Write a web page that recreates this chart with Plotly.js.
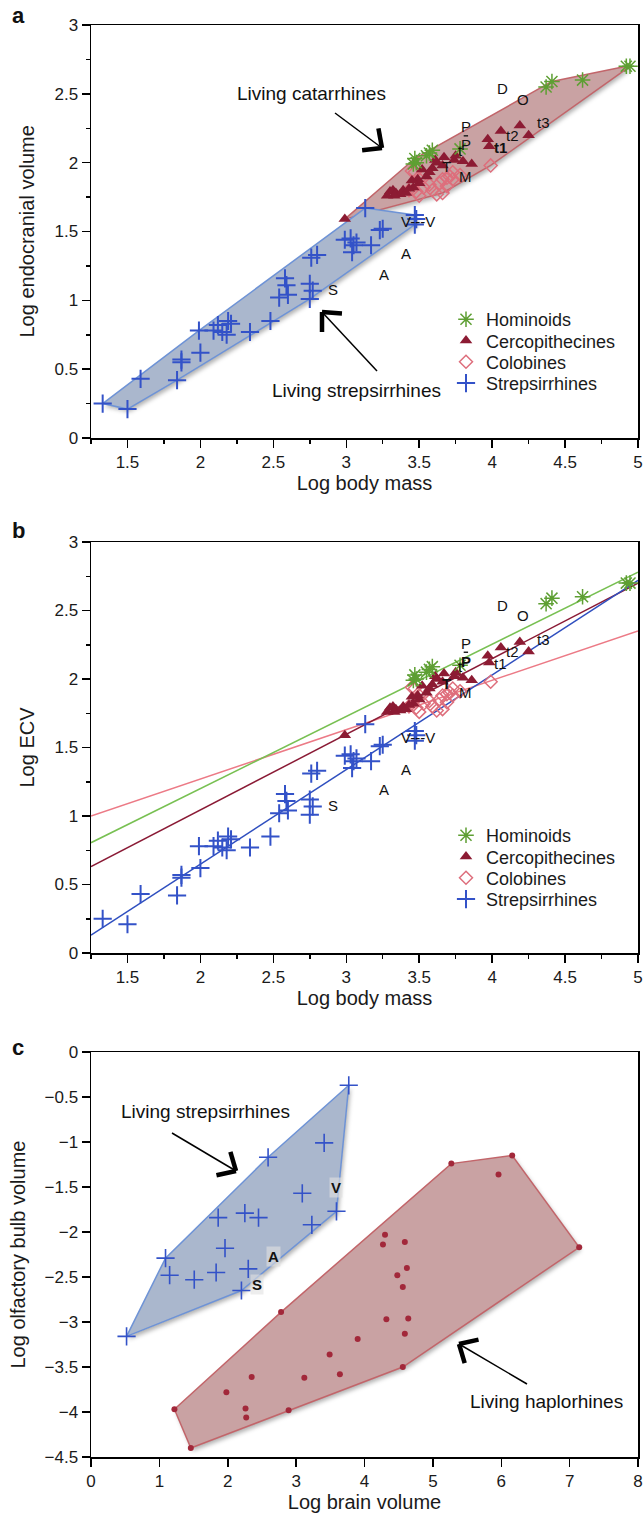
<!DOCTYPE html>
<html><head><meta charset="utf-8">
<script src="https://cdn.plot.ly/plotly-3.0.1.min.js"></script>
<style>html,body{margin:0;padding:0;background:#fff}</style>
</head><body><div id="chart" style="width:643px;height:1513px"></div>
<script>
// ---------- Panels a & b: log body mass vs log endocranial volume ----------
const homMass  = [3.46,3.47,3.48,3.55,3.57,3.59,3.78,4.37,4.41,4.62,4.92,4.945];
const homECV   = [1.99,2.03,2.00,2.05,2.07,2.09,2.10,2.55,2.59,2.60,2.70,2.70];

const cercoMass = [2.99,3.30,3.32,3.34,3.37,3.39,3.33,3.41,3.46,3.49,3.52,3.55,3.59,3.61,3.62,3.67,3.74,3.75,3.80,3.86,3.50,3.45,3.97,3.98,4.06,4.19,4.25,3.28,3.43,3.57,3.66];
const cercoECV  = [1.59,1.79,1.80,1.78,1.77,1.80,1.76,1.78,1.82,1.88,1.95,1.90,1.96,2.02,2.00,2.04,2.02,2.05,2.01,1.99,1.85,1.87,2.17,2.12,2.23,2.27,2.20,1.76,1.81,1.93,1.98];

const coloMass = [3.45,3.47,3.50,3.43,3.48,3.53,3.57,3.59,3.64,3.66,3.69,3.71,3.73,3.66,3.50,3.69,3.99,3.73,3.78,3.62];
const coloECV  = [1.94,1.93,1.88,1.80,1.79,1.82,1.84,1.80,1.85,1.88,1.89,1.90,1.88,1.78,1.76,1.83,1.98,1.93,1.91,1.77];

const strepMass = [1.33,1.50,1.59,1.84,1.87,1.87,2.00,1.99,2.09,2.12,2.15,2.18,2.19,2.21,2.34,2.48,2.54,2.58,2.59,2.60,2.75,2.75,2.77,2.76,2.80,2.99,3.03,3.05,3.04,3.07,3.17,3.23,3.25,3.13,3.47,3.48,3.47];
const strepECV  = [0.25,0.21,0.43,0.42,0.57,0.55,0.62,0.78,0.78,0.82,0.77,0.75,0.85,0.83,0.77,0.85,1.02,1.16,1.11,1.04,1.12,1.01,1.07,1.31,1.33,1.44,1.45,1.40,1.35,1.42,1.40,1.51,1.52,1.67,1.62,1.59,1.55];

// fossil labels (shared by panels a and b)
const fossilText = ["D","O","P","P","t","t1","t2","t3","T","M","V---V","A","A","S"];
const fossilMass = [4.07,4.21,3.82,3.82,3.78,4.06,4.14,4.35,3.69,3.82,3.49,3.41,3.26,2.91];
const fossilECV  = [2.54,2.46,2.26,2.13,2.09,2.11,2.20,2.29,1.97,1.90,1.57,1.34,1.19,1.08];
const fossilBoldA = [false,false,false,false,false,true,false,false,false,false,false,false,false,false];
const fossilBoldB = [false,false,false,true,false,false,false,false,true,false,false,false,false,false];
// range bar joining the two "P" labels
const pBarMass = [3.805, 3.835];
const pBarECV  = [2.195, 2.195];

// regression lines (panel b), evaluated at the axis ends
const fitMass  = [1.25, 5];
const fitHom   = [0.805, 2.78];
const fitCerco = [0.63, 2.70];
const fitColo  = [1.00, 2.35];
const fitStrep = [0.13, 2.72];

// ---------- Panel c: log brain volume vs log olfactory bulb volume ----------
const strepBrain = [0.52,1.09,1.15,1.51,1.83,1.96,1.86,2.25,2.45,2.30,2.20,2.59,3.41,3.09,3.59,3.23,3.77];
const strepBulb  = [-3.16,-2.29,-2.48,-2.53,-2.45,-2.18,-1.84,-1.79,-1.84,-2.41,-2.65,-1.17,-1.01,-1.57,-1.77,-1.92,-0.37];
const haploBrain = [5.27,4.30,4.27,4.59,4.62,4.48,4.56,2.78,4.32,4.64,4.59,3.90,3.49,4.56,2.35,3.12,3.64,1.98,2.26,2.27,2.89,1.46,1.22,6.16,5.96,7.14];
const haploBulb  = [-1.24,-2.03,-2.14,-2.11,-2.40,-2.48,-2.61,-2.89,-2.97,-2.96,-3.13,-3.19,-3.36,-3.50,-3.61,-3.62,-3.58,-3.78,-3.96,-4.06,-3.98,-4.40,-3.97,-1.15,-1.36,-2.17];
const fossilCText  = ["V","A","S"];
const fossilCBrain = [3.58,2.67,2.43];
const fossilCBulb  = [-1.50,-2.27,-2.58];

const legendNames = ["Hominoids","Cercopithecines","Colobines","Strepsirrhines"];

// ---------- styling ----------
const FONT = "Liberation Sans, Arial, Helvetica, sans-serif";
const W = 643, H = 1513;
const GREEN = "#5E9F33", DRED = "#8C1B33", PINK = "#DE6E7C", BLUE = "#3352C8";
const GREEN_L = "#78C052", PINK_L = "#EC7A86", BLUE_L = "#2F4FBF", DRED_L = "#8A1A35";

function hull(xs, ys) {
  const pts = xs.map((x, i) => [x, ys[i]]).sort((a, b) => a[0] - b[0] || a[1] - b[1]);
  const cr = (o, a, b) => (a[0]-o[0])*(b[1]-o[1]) - (a[1]-o[1])*(b[0]-o[0]);
  const lo = [], up = [];
  for (const p of pts) { while (lo.length >= 2 && cr(lo[lo.length-2], lo[lo.length-1], p) <= 0) lo.pop(); lo.push(p); }
  for (let i = pts.length-1; i >= 0; i--) { const p = pts[i]; while (up.length >= 2 && cr(up[up.length-2], up[up.length-1], p) <= 0) up.pop(); up.push(p); }
  lo.pop(); up.pop();
  const h = lo.concat(up); h.push(h[0]);
  return {x: h.map(p => p[0]), y: h.map(p => p[1])};
}

const BLUE_FILL = "#AAB7CD", BLUE_EDGE = "#6E93D6";
const RED_FILL = "#C9A2A3", RED_EDGE = "#C2656A";

function hullTrace(xs, ys, fill, edge, xa, ya) {
  const h = hull(xs, ys);
  return {type: "scatter", mode: "lines", x: h.x, y: h.y, fill: "toself", fillcolor: fill,
          line: {color: edge, width: 1.5}, xaxis: xa, yaxis: ya, showlegend: false, hoverinfo: "skip"};
}

const markers = [
  {symbol: "asterisk-open", size: 13, color: GREEN, line: {color: GREEN, width: 1.5}},
  {symbol: "triangle-up", size: 11, color: DRED, line: {width: 0}},
  {symbol: "diamond-open", size: 10, color: PINK, line: {color: PINK, width: 1.5}},
  {symbol: "cross-thin-open", size: 13, color: BLUE, line: {color: BLUE, width: 2}}
];

function groupTraces(xa, ya, leg) {
  const xs = [homMass, cercoMass, coloMass, strepMass];
  const ys = [homECV, cercoECV, coloECV, strepECV];
  const order = [3, 2, 1, 0];
  return order.map(i => ({
    type: "scatter", mode: "markers", x: xs[i], y: ys[i], name: legendNames[i],
    marker: markers[i], xaxis: xa, yaxis: ya, legend: leg, legendrank: i + 1
  }));
}

function barTrace(xa, ya) {
  return {type: "scatter", mode: "lines", x: pBarMass, y: pBarECV, line: {color: "#222", width: 1.5},
          xaxis: xa, yaxis: ya, showlegend: false, hoverinfo: "skip"};
}

const traces = [];
// panel a
traces.push(hullTrace(homMass.concat(cercoMass, coloMass), homECV.concat(cercoECV, coloECV), RED_FILL, RED_EDGE, "x", "y"));
traces.push(hullTrace(strepMass, strepECV, BLUE_FILL, BLUE_EDGE, "x", "y"));
traces.push(barTrace("x", "y"));
traces.push(...groupTraces("x", "y", "legend"));
// panel b lines
const fits = [[fitColo, PINK_L], [fitHom, GREEN_L], [fitCerco, DRED_L], [fitStrep, BLUE_L]];
fits.forEach(f => traces.push({type: "scatter", mode: "lines", x: fitMass, y: f[0], line: {color: f[1], width: 1.5},
  xaxis: "x2", yaxis: "y2", showlegend: false, hoverinfo: "skip"}));
traces.push(barTrace("x2", "y2"));
traces.push(...groupTraces("x2", "y2", "legend2"));
// panel c
traces.push(hullTrace(strepBrain, strepBulb, BLUE_FILL, BLUE_EDGE, "x3", "y3"));
traces.push(hullTrace(haploBrain, haploBulb, RED_FILL, RED_EDGE, "x3", "y3"));
traces.push({type: "scatter", mode: "markers", x: strepBrain, y: strepBulb, xaxis: "x3", yaxis: "y3", showlegend: false,
  marker: {symbol: "cross-thin-open", size: 13, color: BLUE, line: {color: BLUE, width: 1.6}}});
traces.push({type: "scatter", mode: "markers", x: haploBrain, y: haploBulb, xaxis: "x3", yaxis: "y3", showlegend: false,
  marker: {symbol: "circle", size: 6, color: "#A2283A"}});

// ---------- axes ----------
const xDom = [91/W, 638/W];
const yDomA = [1 - 438/H, 1 - 25/H];
const yDomB = [1 - 953/H, 1 - 542/H];
const yDomC = [1 - 1457/H, 1 - 1052/H];
const tickFont = {family: FONT, size: 17, color: "#1a1a1a"};
const titleFont = {family: FONT, size: 20, color: "#1a1a1a"};

function xAxis(anchor, range, dtick, minor, title, standoff) {
  const a = {domain: xDom, anchor: anchor, range: range, dtick: dtick, tick0: 0, ticks: "outside", ticklen: 8, tickwidth: 1.5,
    tickcolor: "#000", showline: true, linecolor: "#000", linewidth: 1.5, mirror: true, showgrid: false, zeroline: false,
    tickfont: tickFont, title: {text: title, font: titleFont, standoff: standoff}, fixedrange: true};
  if (minor) a.minor = {dtick: minor, ticks: "outside", ticklen: 4, tickwidth: 1.5, tickcolor: "#000", showgrid: false};
  return a;
}
function yAxis(anchor, dom, range, dtick, minor) {
  const a = {domain: dom, anchor: anchor, range: range, dtick: dtick, tick0: 0, ticks: "outside", ticklen: 8, tickwidth: 1.5,
    tickcolor: "#000", showline: true, linecolor: "#000", linewidth: 1.5, mirror: true, showgrid: false, zeroline: false,
    tickfont: tickFont, fixedrange: true};
  if (minor) a.minor = {dtick: minor, ticks: "outside", ticklen: 4, tickwidth: 1.5, tickcolor: "#000", showgrid: false};
  return a;
}

// ---------- annotations ----------
const annotations = [];
function addText(text, x, y, xref, yref, size, bold, extra) {
  annotations.push(Object.assign({text: bold ? "<b>" + text + "</b>" : text, x: x, y: y, xref: xref, yref: yref,
    showarrow: false, font: {family: FONT, size: size, color: "#111"}, xanchor: "center", yanchor: "middle"}, extra || {}));
}
fossilText.forEach((t, i) => {
  addText(t, fossilMass[i], fossilECV[i], "x", "y", 15, fossilBoldA[i]);
  addText(t, fossilMass[i], fossilECV[i], "x2", "y2", 15, fossilBoldB[i]);
});
fossilCText.forEach((t, i) => addText(t, fossilCBrain[i], fossilCBulb[i], "x3", "y3", 15, true, {bgcolor: "rgba(225,225,225,0.6)"}));

// y-axis titles (rotated)
addText("Log endocranial volume", 27/W, (yDomA[0] + yDomA[1]) / 2, "paper", "paper", 20, false, {textangle: -90, font: titleFont});
addText("Log ECV", 27/W, (yDomB[0] + yDomB[1]) / 2, "paper", "paper", 20, false, {textangle: -90, font: titleFont});
addText("Log olfactory bulb volume", 17/W, (yDomC[0] + yDomC[1]) / 2, "paper", "paper", 20, false, {textangle: -90, font: titleFont});

// panel letters
addText("a", 18/W, 1 - 16/H, "paper", "paper", 22, true);
addText("b", 18/W, 1 - 530/H, "paper", "paper", 22, true);
addText("c", 18/W, 1 - 1047/H, "paper", "paper", 22, true);
// callouts
addText("Living catarrhines", 311/W, 1 - 93/H, "paper", "paper", 19, false);
addText("Living strepsirrhines", 356/W, 1 - 391/H, "paper", "paper", 19, false);
addText("Living strepsirrhines", 205/W, 1 - 1111/H, "paper", "paper", 19, false);
addText("Living haplorhines", 546/W, 1 - 1401/H, "paper", "paper", 19, false);

// arrows (pixel positions on the page)
const shapes = [];
function arrow(x0, y0, x1, y1) {
  const P = (x, y) => [x / W, 1 - y / H];
  const a = P(x0, y0), b = P(x1, y1);
  shapes.push({type: "line", xref: "paper", yref: "paper", x0: a[0], y0: a[1], x1: b[0], y1: b[1], line: {color: "#000", width: 1.5}});
  const ang = Math.atan2(y0 - y1, x0 - x1), L = 20, s = 43 * Math.PI / 180;
  [ang - s, ang + s].forEach(t => {
    const e = P(x1 + L * Math.cos(t), y1 + L * Math.sin(t));
    shapes.push({type: "line", xref: "paper", yref: "paper", x0: b[0], y0: b[1], x1: e[0], y1: e[1], line: {color: "#000", width: 4.5}});
  });
}
arrow(335, 113, 382, 148);
arrow(377, 371, 322, 312);
arrow(172, 1133, 236, 1171);
arrow(527, 1384, 459, 1344);

const legendCommon = {font: {family: FONT, size: 18, color: "#1a1a1a"}, bgcolor: "rgba(0,0,0,0)", borderwidth: 0,
  itemwidth: 30, tracegroupgap: 0, xanchor: "left", yanchor: "top", traceorder: "normal"};

const layout = {
  width: W, height: H, margin: {l: 0, r: 0, t: 0, b: 0}, paper_bgcolor: "#fff", plot_bgcolor: "rgba(0,0,0,0)",
  font: {family: FONT, color: "#1a1a1a"}, showlegend: true,
  legend: Object.assign({x: 446/W, y: 1 - 301/H}, legendCommon),
  legend2: Object.assign({x: 446/W, y: 1 - 817/H}, legendCommon),
  xaxis: xAxis("y", [1.25, 5], 0.5, 0.25, "Log body mass", 2),
  yaxis: yAxis("x", yDomA, [0, 3], 0.5, 0.25),
  xaxis2: xAxis("y2", [1.25, 5], 0.5, 0.25, "Log body mass", 2),
  yaxis2: yAxis("x2", yDomB, [0, 3], 0.5, 0.25),
  xaxis3: xAxis("y3", [0, 8], 1, null, "Log brain volume", 2),
  yaxis3: yAxis("x3", yDomC, [-4.5, 0], 0.5, null),
  annotations: annotations, shapes: shapes
};

Plotly.newPlot("chart", traces, layout, {staticPlot: true}).then(gd => {
  // soft drop shadow under the hull polygons
  const svg = gd.querySelector("svg.main-svg");
  const ns = "http://www.w3.org/2000/svg";
  let defs = svg.querySelector("defs");
  if (!defs) { defs = document.createElementNS(ns, "defs"); svg.insertBefore(defs, svg.firstChild); }
  const f = document.createElementNS(ns, "filter");
  f.setAttribute("id", "hullshadow"); f.setAttribute("x", "-10%"); f.setAttribute("y", "-10%");
  f.setAttribute("width", "130%"); f.setAttribute("height", "130%");
  const ds = document.createElementNS(ns, "feDropShadow");
  ds.setAttribute("dx", "2"); ds.setAttribute("dy", "3"); ds.setAttribute("stdDeviation", "2");
  ds.setAttribute("flood-color", "#000"); ds.setAttribute("flood-opacity", "0.3");
  f.appendChild(ds); defs.appendChild(f);
  gd.querySelectorAll("path.js-fill").forEach(p => p.setAttribute("filter", "url(#hullshadow)"));
  // tighter legend row spacing, as in the reference
  gd.querySelectorAll("g.legend, g.legend2").forEach(lg => {
    let first = null;
    lg.querySelectorAll("g.traces").forEach((it, i) => {
      const m = /translate\(\s*([-\d.e]+)[ ,]+([-\d.e]+)\s*\)/.exec(it.getAttribute("transform") || "");
      if (!m) return;
      if (first === null) first = parseFloat(m[2]);
      it.setAttribute("transform", "translate(" + m[1] + "," + (first + i * 21.3) + ")");
    });
  });
});
</script></body></html>
